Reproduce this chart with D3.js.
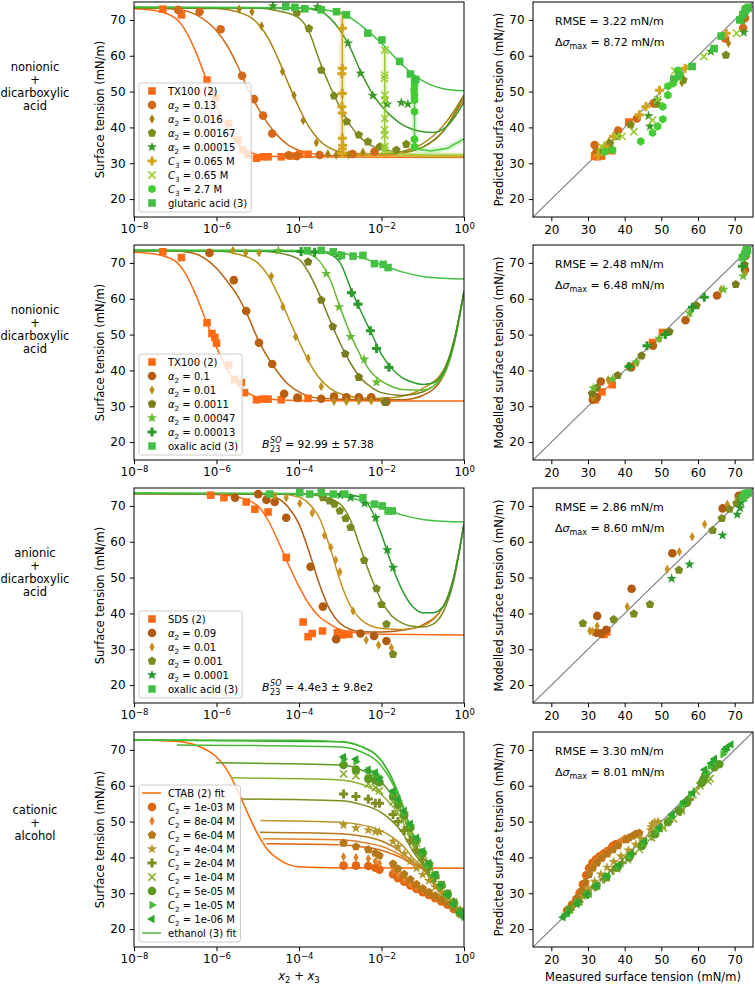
<!DOCTYPE html>
<html>
<head>
<meta charset="utf-8">
<script src="https://cdn.jsdelivr.net/npm/d3@7"></script>
<style>
body { margin: 0; background: #fff; }
svg, text { font-family: "DejaVu Sans"; }
</style>
</head>
<body>
<script>
// ---------- data ----------
var logTicks = [1e-8, 1e-6, 1e-4, 1e-2, 1];
var tensionTicks = [20, 30, 40, 50, 60, 70];
var rowLabels = [["nonionic", "+", "dicarboxylic", "acid"],
                 ["nonionic", "+", "dicarboxylic", "acid"],
                 ["anionic", "+", "dicarboxylic", "acid"],
                 ["cationic", "+", "alcohol"]];
var rightYLabels = ["Predicted surface tension (mN/m)", "Modelled surface tension (mN/m)",
                    "Modelled surface tension (mN/m)", "Predicted surface tension (mN/m)"];
var rmse = ["3.22", "2.48", "2.86", "3.30"];
var dsigmaMax = ["8.72", "6.48", "8.60", "8.01"];
var bso = [null, "92.99 ± 57.38", "4.4e3 ± 9.8e2", null];

// points are [log10(x2+x3), surface tension]; fits likewise; preds are [measured, predicted]
// row 1
var r1Labels = ["TX100 (2)", "α|2| = 0.13", "α|2| = 0.016", "α|2| = 0.00167", "α|2| = 0.00015",
                "C|3| = 0.065 M", "C|3| = 0.65 M", "C|3| = 2.7 M", "glutaric acid (3)"];
var r1Points = [
  [[-7.30,73.0],[-6.85,71.4],[-6.23,53.2],[-6.10,49.5],[-6.02,48.2],[-5.70,41.1],[-5.48,36.5],[-5.36,33.7],[-5.24,32.4],[-5.03,31.4],[-4.87,31.8],[-4.75,31.8],[-4.43,31.8],[-4.15,32.0],[-3.98,32.5],[-3.78,32.5]],
  [[-6.93,72.8],[-6.41,72.3],[-5.90,67.4],[-5.38,54.4],[-5.09,47.9],[-4.87,43.3],[-4.65,38.3],[-4.25,32.2],[-4.05,32.0],[-3.50,32.3],[-2.70,32.6],[-2.17,33.2]],
  [[-5.45,73.0],[-5.14,72.3],[-4.91,68.3],[-4.40,55.6],[-4.12,49.0],[-3.90,41.9],[-3.58,35.7],[-3.30,32.6],[-3.10,32.3],[-2.80,32.4],[-2.45,33.1]],
  [[-4.05,72.0],[-3.76,67.6],[-3.46,56.0],[-3.15,48.8],[-2.84,41.6],[-2.55,37.9],[-2.33,36.0],[-2.04,34.6],[-1.64,33.7],[-1.40,35.3]],
  [[-4.63,73.9],[-3.55,73.6],[-2.81,63.5],[-2.51,55.1],[-2.21,48.9],[-1.86,46.5],[-1.52,46.9],[-1.36,46.5]],
  [[-2.95,67.7],[-2.95,56.5],[-2.96,55.0],[-2.95,49.5],[-2.96,45.8],[-2.95,44.0],[-2.95,37.0],[-2.94,35.0],[-2.95,34.0],[-2.95,32.8]],
  [[-1.92,61.6],[-1.92,54.6],[-1.93,53.7],[-1.92,49.0],[-1.92,47.6],[-1.92,42.5],[-1.93,39.3],[-1.92,37.9],[-1.92,34.6],[-1.92,33.7]],
  [[-1.20,53.2],[-1.20,51.8],[-1.21,50.4],[-1.20,49.0],[-1.20,47.6],[-1.20,44.4],[-1.20,36.7],[-1.20,34.6]],
  [[-4.32,73.7],[-4.10,73.5],[-3.86,73.1],[-3.46,72.8],[-3.09,72.3],[-2.85,71.4],[-2.33,66.3],[-1.99,64.4],[-1.56,58.4],[-1.30,54.9],[-1.17,53.4]]
];
var r1Fits = [
  [[-8,73.1],[-7.5,72.6],[-7,70.5],[-6.75,67],[-6.5,61],[-6.25,53.5],[-6,46],[-5.75,40],[-5.5,35.8],[-5.25,33.5],[-5,32.4],[-4.5,31.9],[-4,31.8],[-2,31.7],[0,31.7]],
  [[-8,73.4],[-7,73],[-6.5,71.5],[-6,67],[-5.75,63],[-5.5,57.5],[-5.25,51],[-5,45.5],[-4.75,41],[-4.5,37.5],[-4.25,35],[-4,33.6],[-3.5,32.4],[-3,32.1],[-2,32.2],[-1.5,32.8],[-1,34.5],[-0.5,39],[0,48]],
  [[-8,73.4],[-6,73.2],[-5.5,72.3],[-5,69],[-4.75,65],[-4.5,59],[-4.25,52],[-4,45.5],[-3.75,40],[-3.5,36.3],[-3.25,34.2],[-3,33.2],[-2.5,32.6],[-2,32.6],[-1.5,33.3],[-1,35.5],[-0.5,40.5],[0,49]],
  [[-8,73.5],[-5,73.3],[-4.5,72.5],[-4,70.5],[-3.75,66.5],[-3.5,58.5],[-3.25,51.5],[-3,45.5],[-2.75,40.5],[-2.5,37],[-2.25,35],[-2,33.8],[-1.5,33.2],[-1,34.5],[-0.5,39],[0,49]],
  [[-8,73.5],[-4,73.3],[-3.5,72.5],[-3.25,70.5],[-3,67],[-2.75,62],[-2.5,55.5],[-2.25,50],[-2,46],[-1.75,43],[-1.5,40.8],[-1.25,39.5],[-1,38.8],[-0.75,38.6],[-0.5,39.5],[-0.25,42.5],[0,47]],
  [[-2.95,72.5],[-2.95,32.5],[-2,32.1],[0,32.0]],
  [[-1.92,62.5],[-1.92,33.2],[-1.5,32.6],[-1,32.4],[0,32.3]],
  [[-1.2,53.5],[-1.2,34],[-0.8,33.4],[-0.4,34.2],[0,36.8]],
  [[-8,73.6],[-4,73.4],[-3,72],[-2.5,68.5],[-2,63.5],[-1.5,57.5],[-1,53],[-0.5,50.8],[0,50.2]]
];
var r1Preds = [
  [[31.8,32.0],[32.5,31.8],[33.7,32.0],[36.5,33.5],[41.1,41.5],[72.3,71.5],[73.0,73.0]],
  [[31.8,35.1],[32.3,33.2],[33.2,32.3],[35.0,34.6],[38.2,39.1],[43.3,42.5],[47.9,46.7],[67.4,64.8],[72.3,67.7],[72.8,70.5]],
  [[32.4,32.8],[32.6,33.5],[35.7,36.0],[41.9,40.5],[49.0,47.0],[55.6,52.5],[68.3,63.5],[72.3,69.5],[73.0,71.5]],
  [[33.7,33.5],[34.6,34.0],[36.0,35.5],[37.9,37.5],[41.6,40.8],[48.8,46.5],[56.0,53.2],[67.6,60.2],[72.0,70.0]],
  [[46.5,43.2],[46.9,40.3],[48.9,47.5],[55.1,54.0],[63.5,61.2],[72.5,66.5],[73.9,73.3]],
  [[32.8,32.2],[34.6,34.8],[37.0,37.5],[44.0,43.5],[45.8,45.8],[49.5,50.4],[55.0,55.0],[56.5,56.5],[67.7,66.3]],
  [[33.7,34.6],[34.6,33.5],[37.9,37.4],[39.3,37.5],[42.5,38.8],[47.6,42.0],[49.0,47.7],[53.7,55.8],[54.6,54.0],[61.6,59.8],[70.5,66.3]],
  [[34.6,33.2],[36.7,33.7],[44.4,36.1],[47.6,38.5],[49.0,40.3],[50.4,42.3],[50.4,45.8],[51.8,49.0],[53.2,52.3],[51.8,51.5],[54.5,55.9]],
  [[53.4,53.5],[54.9,54.5],[58.4,57.0],[64.4,62.0],[66.3,65.5],[71.4,70.0],[72.3,71.5],[72.8,72.5],[73.1,73.0],[73.7,73.5]]
];

// row 2
var r2Labels = ["TX100 (2)", "α|2| = 0.1", "α|2| = 0.01", "α|2| = 0.0011", "α|2| = 0.00047",
                "α|2| = 0.00013", "oxalic acid (3)"];
var r2Points = [
  [[-7.30,73.1],[-6.85,71.5],[-6.23,53.3],[-6.11,50.3],[-6.04,49.2],[-6.0,47.6],[-5.70,41.5],[-5.56,37.5],[-5.40,36.6],[-5.32,33.8],[-5.03,31.8],[-4.87,32.0],[-4.75,32.0],[-4.43,31.8],[-4.02,32.2],[-3.78,32.2]],
  [[-6.17,72.8],[-5.58,65.2],[-5.28,56.6],[-4.97,47.7],[-4.65,41.8],[-4.36,33.5],[-4.04,32.4],[-3.46,32.1],[-3.15,32.7],[-2.85,32.5],[-2.55,32.5],[-2.25,32.5],[-1.88,31.3]],
  [[-5.60,73.5],[-5.29,72.8],[-4.97,72.8],[-4.67,66.3],[-4.39,57.8],[-4.08,49.4],[-3.78,43.4],[-3.46,35.5],[-3.15,31.3],[-2.85,31.3],[-2.55,31.5],[-2.25,31.5],[-1.98,31.5]],
  [[-3.78,70.3],[-3.46,59.6],[-3.18,52.2],[-2.88,44.6],[-2.55,38.1],[-1.91,31.1]],
  [[-4.50,73.4],[-3.34,67.0],[-3.03,57.7],[-2.75,49.4],[-2.42,43.1],[-2.12,36.7]],
  [[-3.95,73.2],[-3.62,73.0],[-3.01,72.1],[-2.73,61.7],[-2.57,58.5],[-2.27,51.1],[-2.12,46.1],[-1.82,40.9]],
  [[-3.80,73.4],[-3.46,73.5],[-3.17,73.1],[-2.97,72.1],[-2.69,71.9],[-2.45,72.1],[-2.17,69.8],[-1.96,69.6],[-1.84,68.7]]
];
var r2Fits = [
  [[-8,73],[-7.5,72.5],[-7,70.5],[-6.75,67],[-6.5,61],[-6.25,53.7],[-6,46.5],[-5.75,40.5],[-5.5,36.2],[-5.25,33.8],[-5,32.5],[-4.5,31.8],[-4,31.6],[-2,31.5],[0,31.5]],
  [[-8,73.5],[-7,73.3],[-6.5,72.5],[-6.25,71],[-6,68.5],[-5.75,65],[-5.5,61],[-5.25,55.5],[-5,48.8],[-4.75,43.5],[-4.5,39.3],[-4.25,36],[-4,34],[-3.5,32.2],[-2.5,31.8],[-1.5,31.8],[-1,33],[-0.5,38.5],[-0.25,47],[0,62]],
  [[-8,73.5],[-6,73.3],[-5.5,72.5],[-5,70],[-4.75,66.5],[-4.5,61],[-4.25,54.5],[-4,48],[-3.75,42.2],[-3.5,37.8],[-3.25,35],[-3,33.5],[-2.5,32.4],[-2,32.2],[-1.5,32.8],[-1,35],[-0.5,40],[-0.25,48],[0,62]],
  [[-8,73.5],[-5,73.3],[-4.5,72.8],[-4,71],[-3.75,67],[-3.5,61],[-3.25,54],[-3,47.5],[-2.75,42],[-2.5,37.8],[-2.25,35.3],[-2,33.8],[-1.5,33],[-1,34],[-0.5,39],[-0.25,48],[0,62]],
  [[-8,73.5],[-4,73.2],[-3.75,72.5],[-3.5,70.5],[-3.25,65.5],[-3,57.5],[-2.75,50],[-2.5,44],[-2.25,39.5],[-2,37],[-1.75,35.5],[-1.5,34.7],[-1,34.5],[-0.5,38.5],[-0.25,47],[0,62]],
  [[-8,73.5],[-3.5,73.2],[-3.25,72.5],[-3,70],[-2.75,63],[-2.5,56.5],[-2.25,50.5],[-2,44.5],[-1.75,40.5],[-1.5,38],[-1.25,36.7],[-1,36.1],[-0.75,36.5],[-0.5,39.5],[-0.25,47.5],[0,62]],
  [[-8,73.6],[-4,73.5],[-3,72.8],[-2.5,71.5],[-2,69.5],[-1.5,67.5],[-1,66.2],[-0.5,65.7],[0,65.5]]
];
var r2Preds = [
  [[31.8,32.0],[32.0,31.8],[32.2,32.5],[33.8,34.0],[36.6,36.0],[41.5,41.0],[47.6,47.8],[50.3,50.6],[73.1,73.0]],
  [[31.3,31.8],[32.4,32.5],[33.5,36.9],[41.8,40.8],[47.7,46.9],[56.6,54.0],[65.2,60.9],[72.8,68.1],[73.0,72.0]],
  [[31.3,32.5],[31.5,32.7],[35.5,37.4],[43.4,42.1],[49.4,48.8],[57.8,56.0],[66.3,62.6],[72.8,67.2],[73.5,72.5]],
  [[31.1,33.5],[32.4,35.1],[38.1,38.6],[44.6,44.1],[52.2,50.8],[59.6,58.1],[70.3,64.0],[72.7,69.5]],
  [[31.5,35.1],[36.7,37.6],[43.1,42.3],[49.4,48.9],[57.7,56.0],[67.0,62.6],[72.3,66.3],[73.3,73.0]],
  [[41.2,41.1],[46.1,46.9],[51.1,50.0],[58.5,57.6],[61.7,60.4],[72.1,69.1],[73.2,73.3]],
  [[72.1,71.5],[72.7,72.3],[73.2,73.7],[73.5,73.5],[73.0,72.8]]
];

// row 3
var r3Labels = ["SDS (2)", "α|2| = 0.09", "α|2| = 0.01", "α|2| = 0.001", "α|2| = 0.0001", "oxalic acid (3)"];
var r3Points = [
  [[-6.14,73.0],[-5.82,72.3],[-5.28,71.1],[-5.07,69.1],[-4.75,68.3],[-4.31,55.6],[-3.90,37.6],[-3.78,33.5],[-3.68,34.4],[-3.43,35.1],[-3.07,34.6],[-2.95,34.0],[-2.79,34.2]],
  [[-5.55,72.3],[-4.99,73.3],[-4.79,71.7],[-4.59,71.1],[-4.31,66.7],[-3.72,53.0],[-3.42,41.9],[-3.10,32.8],[-2.51,34.4],[-2.18,33.7],[-1.88,32.3]],
  [[-4.59,72.8],[-4.31,72.3],[-3.98,70.7],[-3.68,68.0],[-3.38,61.8],[-3.23,58.4],[-3.11,54.9],[-3.01,51.6],[-2.69,40.7],[-2.37,32.6],[-2.07,31.2],[-1.76,30.4]],
  [[-3.42,72.3],[-3.26,71.4],[-3.14,70.5],[-3.01,68.6],[-2.87,66.5],[-2.75,64.0],[-2.42,54.8],[-2.12,46.9],[-2.00,42.5],[-1.88,37.0],[-1.72,28.6]],
  [[-3.00,73.0],[-2.75,72.3],[-2.41,70.7],[-2.14,66.7],[-1.86,57.7],[-1.72,52.8]],
  [[-4.71,73.3],[-3.98,73.7],[-3.74,73.3],[-3.46,73.7],[-3.17,73.3],[-2.89,73.3],[-2.45,72.3],[-2.17,70.5],[-1.98,70.0],[-1.84,68.6],[-1.74,68.6]]
];
var r3Fits = [
  [[-8,73.5],[-6,73.2],[-5.5,72.5],[-5,70],[-4.75,66],[-4.5,60],[-4.25,53.5],[-4,47.5],[-3.75,42.5],[-3.5,39],[-3.25,37],[-3,35.5],[-2.5,34.5],[-2,34.2],[0,34.0]],
  [[-8,73.5],[-5,73.3],[-4.5,72],[-4.25,69.5],[-4,65],[-3.75,57],[-3.5,48],[-3.25,41],[-3,37.2],[-2.75,35.5],[-2.5,34.9],[-2,34.8],[-1.5,35.3],[-1,36.8],[-0.5,42],[-0.25,50],[0,65]],
  [[-8,73.5],[-4.5,73.3],[-4,72.5],[-3.75,70.5],[-3.5,66.5],[-3.25,58.5],[-3,49],[-2.75,42],[-2.5,38.3],[-2.25,36.5],[-2,35.8],[-1.5,35.5],[-1,36.5],[-0.5,42],[-0.25,50],[0,65]],
  [[-8,73.5],[-4,73.3],[-3.5,72.8],[-3,70.5],[-2.75,66],[-2.5,58],[-2.25,50],[-2,43.5],[-1.75,39.3],[-1.5,37.3],[-1.25,36.4],[-1,36.2],[-0.75,37],[-0.5,40.5],[-0.25,49],[0,65]],
  [[-8,73.5],[-3,73.3],[-2.5,72.5],[-2.25,69],[-2,62],[-1.75,53.5],[-1.5,46.5],[-1.25,42],[-1,40.2],[-0.75,40.2],[-0.5,42],[-0.25,50],[0,65]],
  [[-8,73.6],[-4,73.5],[-3,72.8],[-2.5,71.5],[-2,69.5],[-1.5,67.5],[-1,66.2],[-0.5,65.7],[0,65.5]]
];
var r3Preds = [
  [[33.5,34.5],[34.4,34.3],[35.1,34.8],[34.2,34.1],[73.0,73.2],[72.3,73.0]],
  [[32.5,39.3],[41.9,46.9],[53.0,56.8],[66.7,69.3],[32.3,34.6],[33.6,34.4],[35.0,35.4],[73.2,73.3],[72.3,72.5],[71.1,72.8]],
  [[30.5,35.1],[32.5,36.5],[31.2,35.0],[40.7,41.9],[51.6,52.3],[54.9,57.2],[58.4,61.4],[61.8,64.9],[68.0,70.5],[70.7,72.0],[72.3,73.0],[72.8,73.3]],
  [[28.6,37.2],[37.0,38.3],[42.5,39.9],[46.9,42.5],[54.8,52.1],[64.0,63.2],[66.5,66.5],[68.6,69.1],[70.5,70.7],[71.4,72.2],[72.3,73.0]],
  [[52.8,49.7],[57.7,53.7],[66.7,61.8],[70.7,67.6],[71.5,69.4],[71.8,70.9],[72.7,72.3]],
  [[72.3,72.3],[72.7,73.3],[73.3,73.5],[73.7,73.6]]
];

// row 4
var r4Labels = ["CTAB (2) fit", "C|2| = 1e-03 M", "C|2| = 8e-04 M", "C|2| = 6e-04 M", "C|2| = 4e-04 M",
                "C|2| = 2e-04 M", "C|2| = 1e-04 M", "C|2| = 5e-05 M", "C|2| = 1e-05 M", "C|2| = 1e-06 M",
                "ethanol (3) fit"];
var r4Points = [
  [],
  [[-2.92,37.7],[-2.62,37.7],[-2.32,37.6],[-2.15,37.1],[-2.05,36.6],[-1.72,35.3],[-1.6,34.2],[-1.45,33.2],[-1.3,32.2],[-1.15,31.2],[-1.0,30.3],[-0.85,29.5],[-0.7,28.6],[-0.55,27.7],[-0.4,26.8],[-0.25,25.6],[-0.1,24.3]],
  [[-2.92,40.2],[-2.62,40.0],[-2.32,39.6],[-2.15,38.9],[-2.05,38.3],[-1.72,36.3],[-1.6,35.0],[-1.45,33.8],[-1.3,32.7],[-1.15,31.7],[-1.0,30.8],[-0.85,29.9],[-0.7,29.0],[-0.55,28.1],[-0.4,27.1],[-0.25,25.9],[-0.1,24.6]],
  [[-2.92,44.0],[-2.62,43.0],[-2.32,42.2],[-2.15,41.2],[-2.05,40.5],[-1.72,38.2],[-1.6,36.8],[-1.45,35.3],[-1.3,33.8],[-1.15,32.5],[-1.0,31.3],[-0.85,30.3],[-0.7,29.3],[-0.55,28.3],[-0.4,27.2],[-0.25,26.0],[-0.1,24.6]],
  [[-2.92,49.1],[-2.62,48.2],[-2.32,47.6],[-2.15,47.2],[-2.05,47.1],[-1.72,44.5],[-1.6,43.0],[-1.45,41.0],[-1.3,39.0],[-1.15,37.0],[-1.0,35.2],[-0.85,33.5],[-0.7,31.8],[-0.55,30.2],[-0.4,28.6],[-0.25,26.8],[-0.1,24.9]],
  [[-2.92,57.7],[-2.62,57.0],[-2.32,56.3],[-2.15,55.1],[-2.05,55.1],[-1.72,52.0],[-1.6,50.0],[-1.45,47.5],[-1.3,44.8],[-1.15,42.0],[-1.0,39.3],[-0.85,36.8],[-0.7,34.3],[-0.55,32.0],[-0.4,29.8],[-0.25,27.5],[-0.1,25.1]],
  [[-2.92,63.3],[-2.62,62.8],[-2.32,60.5],[-2.15,59.5],[-2.05,58.6],[-1.72,55.5],[-1.6,53.3],[-1.45,50.5],[-1.3,47.3],[-1.15,44.0],[-1.0,40.8],[-0.85,37.8],[-0.7,35.0],[-0.55,32.4],[-0.4,30.0],[-0.25,27.5],[-0.1,25.0]],
  [[-2.92,65.8],[-2.62,64.5],[-2.32,62.0],[-2.15,61.5],[-2.05,61.0],[-1.72,57.0],[-1.6,54.8],[-1.45,51.8],[-1.3,48.3],[-1.15,44.7],[-1.0,41.2],[-0.85,38.0],[-0.7,35.0],[-0.55,32.3],[-0.4,29.8],[-0.25,27.2],[-0.1,24.8]],
  [[-2.92,67.5],[-2.62,66.8],[-2.32,64.2],[-2.15,63.3],[-2.05,62.3],[-1.72,58.0],[-1.6,55.8],[-1.45,52.6],[-1.3,49.0],[-1.15,45.2],[-1.0,41.5],[-0.85,38.2],[-0.7,35.1],[-0.55,32.3],[-0.4,29.6],[-0.25,27.0],[-0.1,24.5],[0,23.4]],
  [[-2.92,68.0],[-2.62,67.4],[-2.32,64.5],[-2.15,63.7],[-2.05,61.8],[-1.72,58.5],[-1.6,56.2],[-1.45,53.0],[-1.3,49.4],[-1.15,45.5],[-1.0,41.8],[-0.85,38.4],[-0.7,35.2],[-0.55,32.3],[-0.4,29.6],[-0.25,27.0],[-0.1,24.4],[0,23.2]],
  []
];
var r4Fits = [
  [[-8,72.8],[-7,72.4],[-6.5,71.3],[-6,68],[-5.75,64.5],[-5.5,59],[-5.25,52.5],[-5,46.5],[-4.75,42],[-4.5,39.5],[-4.25,38],[-4,37.4],[-3,37.1],[0,37.0]],
  [[-4.79,43.8],[-3,43.5],[-2.5,43],[-2,42],[-1.75,41],[-1.5,39.8],[-1.25,38],[-1,36.8],[-0.75,32.8],[-0.5,29.3],[-0.25,25.9],[0,22.8]],
  [[-4.87,45.2],[-3,44.9],[-2.5,44.3],[-2,43.1],[-1.75,41.9],[-1.5,40.4],[-1.25,38.3],[-1,36.9],[-0.75,32.9],[-0.5,29.4],[-0.25,25.9],[0,23]],
  [[-4.95,47],[-3,46.6],[-2.5,46],[-2,44.6],[-1.75,43.2],[-1.5,41.3],[-1.25,39],[-1,37],[-0.75,33],[-0.5,29.4],[-0.25,26],[0,23]],
  [[-4.93,50.3],[-3,49.8],[-2.5,49.1],[-2,47.4],[-1.75,45.7],[-1.5,43.5],[-1.25,40],[-1,37.3],[-0.75,33.2],[-0.5,29.5],[-0.25,26],[0,23.1]],
  [[-5.38,56.3],[-3,55.8],[-2.5,54.8],[-2,52.5],[-1.75,50.2],[-1.5,47],[-1.25,42],[-1,37.8],[-0.75,33.4],[-0.5,29.6],[-0.25,26.1],[0,23.2]],
  [[-5.65,62.2],[-3,61.6],[-2.5,60.5],[-2,57.5],[-1.75,54.5],[-1.5,50.5],[-1.25,43.5],[-1,38.2],[-0.75,33.5],[-0.5,29.6],[-0.25,26.2],[0,23.3]],
  [[-6.02,66.4],[-3,65.8],[-2.5,64.5],[-2,61],[-1.75,57.5],[-1.5,52.5],[-1.25,44.5],[-1,38.4],[-0.75,33.5],[-0.5,29.6],[-0.25,26.2],[0,23.3]],
  [[-6.96,71.4],[-3,70.8],[-2.5,69.5],[-2,65.5],[-1.75,61],[-1.5,54.5],[-1.25,46],[-1,38.6],[-0.75,33.5],[-0.5,29.6],[-0.25,26.3],[0,23.3]],
  [[-8,72.8],[-3,72.3],[-2.5,71],[-2,67],[-1.75,62.2],[-1.5,55],[-1.25,46.5],[-1,38.8],[-0.75,33.5],[-0.5,29.5],[-0.25,26.3],[0,23.3]],
  [[-8,72.8],[-4,72.7],[-3,72.3],[-2.5,71],[-2,67],[-1.75,62],[-1.5,55],[-1.25,46.5],[-1,38.8],[-0.75,33.5],[-0.5,29.5],[-0.25,26.3],[0,23.3]]
];
var r4Preds = [
  [],
  [[24.3,25.2],[25.6,26.8],[26.8,28.3],[27.7,30.0],[28.6,32.5],[29.5,35.0],[30.3,37.0],[31.2,38.5],[32.2,39.5],[33.2,40.3],[34.2,41.0],[35.3,41.8],[36.6,43.0],[37.1,43.4],[37.7,43.7]],
  [[24.6,25.3],[25.9,27.0],[27.1,28.6],[28.1,30.5],[29.0,33.0],[29.9,35.5],[30.8,37.2],[31.7,38.5],[32.7,39.6],[33.8,40.6],[35.0,41.6],[36.3,42.5],[38.3,44.0],[38.9,44.5],[39.6,45.0],[40.0,45.1],[40.2,45.2]],
  [[24.6,25.3],[26.0,27.0],[27.2,28.8],[28.3,30.8],[29.3,33.0],[30.3,35.3],[31.3,37.0],[32.5,38.5],[33.8,39.8],[35.3,41.0],[36.8,42.2],[38.2,43.3],[40.5,45.0],[41.2,45.5],[42.2,46.0],[43.0,46.5],[44.0,46.8]],
  [[24.9,25.4],[26.8,27.2],[28.6,29.2],[30.2,31.3],[31.8,33.3],[33.5,35.3],[35.2,37.2],[37.0,38.8],[39.0,40.4],[41.0,42.0],[43.0,43.6],[44.5,45.2],[47.1,47.6],[47.2,48.5],[47.6,49.3],[48.2,49.8],[49.1,50.0]],
  [[25.1,25.5],[27.5,27.6],[29.8,29.7],[32.0,31.8],[34.3,34.0],[36.8,36.4],[39.3,38.5],[42.0,41.0],[44.8,43.5],[47.5,46.0],[50.0,48.3],[52.0,50.0],[55.1,52.8],[55.1,53.3],[56.3,55.0],[57.0,55.8],[57.7,56.2]],
  [[25.0,25.5],[27.5,27.6],[30.0,29.8],[32.4,32.0],[35.0,34.3],[37.8,36.8],[40.8,39.4],[44.0,42.3],[47.3,45.5],[50.5,48.3],[53.3,50.8],[55.5,53.0],[58.6,57.5],[59.5,58.5],[60.5,60.0],[62.8,61.3],[63.3,62.0]],
  [[24.8,25.4],[27.2,27.5],[29.8,29.8],[32.3,32.1],[35.0,34.5],[38.0,37.2],[41.2,40.0],[44.7,43.2],[48.3,46.5],[51.8,49.8],[54.8,53.0],[57.0,55.3],[61.0,60.8],[61.5,61.8],[62.0,63.0],[64.5,65.2],[65.8,66.0]],
  [[23.4,23.5],[24.5,24.5],[27.0,27.2],[29.6,29.6],[32.3,32.2],[35.1,34.8],[38.2,37.5],[41.5,40.5],[45.2,44.0],[49.0,47.5],[52.6,51.2],[55.8,54.8],[58.0,57.5],[62.3,63.8],[63.3,65.5],[64.2,66.5],[66.8,68.8],[67.5,70.0]],
  [[23.2,23.3],[24.4,24.4],[27.0,27.0],[29.6,29.5],[32.3,32.0],[35.2,34.8],[38.4,37.8],[41.8,41.0],[45.5,44.5],[49.4,48.3],[53.0,52.0],[56.2,55.5],[58.5,58.0],[61.8,64.5],[63.7,66.3],[64.5,67.5],[67.4,70.2],[68.0,70.8],[69.0,71.5]],
  []
];

// ---------- styles ----------
var r1Colors = ["#ff6a14", "#d2691a", "#a8820f", "#7e8a1e", "#3a9a28", "#d4a418", "#9acd32", "#44cc33", "#40c040"];
var r1Shapes = ["square", "circle", "diamond", "pentagon", "star", "plus", "x", "hexagon", "square"];
var r1Curve = ["smooth", "smooth", "smooth", "smooth", "smooth", "linear", "linear", "linear", "smooth"];
var r2Colors = ["#ff6a14", "#b8600f", "#b8901a", "#7a7c1e", "#66bb33", "#2a9a2a", "#44c044"];
var r2Shapes = ["square", "circle", "diamond", "pentagon", "star", "plus", "square"];
var r3Colors = ["#ff6a14", "#b05a12", "#c8901e", "#7a8a20", "#2a9a30", "#44c044"];
var r3Shapes = ["square", "circle", "diamond", "pentagon", "star", "square"];
var r4Colors = ["#ff6600", "#e0660f", "#e0812a", "#b67818", "#b4982a", "#7f8c1f", "#8bb030", "#5c9a22", "#44bb33", "#2ea52e", "#44bb33"];
var r4Shapes = ["line", "circle", "diamond", "pentagon", "star", "plus", "x", "circle", "triR", "triL", "line"];

var rows = [
  {labels: r1Labels, pts: r1Points, fits: r1Fits, preds: r1Preds, colors: r1Colors, shapes: r1Shapes, curve: r1Curve},
  {labels: r2Labels, pts: r2Points, fits: r2Fits, preds: r2Preds, colors: r2Colors, shapes: r2Shapes},
  {labels: r3Labels, pts: r3Points, fits: r3Fits, preds: r3Preds, colors: r3Colors, shapes: r3Shapes},
  {labels: r4Labels, pts: r4Points, fits: r4Fits, preds: r4Preds, colors: r4Colors, shapes: r4Shapes}
];

// ---------- layout ----------
var FONT = '"DejaVu Sans"';
var rowTop = [2, 245, 488, 732],
    panelH = 215;
var leftX0 = 134, leftX1 = 464,
    rightX0 = 533, rightX1 = 753;

var svg = d3.select('body')
            .append('svg')
            .attr('width', 755)
            .attr('height', 984)
            .attr('font-family', FONT);

// marker shapes, size = radius^2
function poly(n, sx, sy) {
  return {draw: function(ctx, size) {
    var r = Math.sqrt(size);
    for (var k = 0; k < n; k++) {
      var a = -Math.PI / 2 + k * 2 * Math.PI / n;
      var px = r * sx * Math.cos(a), py = r * sy * Math.sin(a);
      if (k === 0) ctx.moveTo(px, py); else ctx.lineTo(px, py);
    }
    ctx.closePath();
  }};
}
var markerTypes = {
  square: {draw: function(ctx, size) { var r = Math.sqrt(size) * 0.88; ctx.rect(-r, -r, 2 * r, 2 * r); }},
  circle: {draw: function(ctx, size) { var r = Math.sqrt(size); ctx.moveTo(r, 0); ctx.arc(0, 0, r, 0, 2 * Math.PI); }},
  diamond: poly(4, 0.62, 1.1),
  pentagon: poly(5, 1.05, 1.05),
  hexagon: poly(6, 1.0, 1.0),
  star: {draw: function(ctx, size) {
    var r = Math.sqrt(size) * 1.25, ri = r * 0.4;
    for (var k = 0; k < 10; k++) {
      var a = -Math.PI / 2 + k * Math.PI / 5, rr = k % 2 ? ri : r;
      if (k === 0) ctx.moveTo(rr * Math.cos(a), rr * Math.sin(a)); else ctx.lineTo(rr * Math.cos(a), rr * Math.sin(a));
    }
    ctx.closePath();
  }},
  plus: {draw: function(ctx, size) {
    var r = Math.sqrt(size) * 1.05, t = r / 3;
    ctx.moveTo(-t, -r); ctx.lineTo(t, -r); ctx.lineTo(t, -t); ctx.lineTo(r, -t); ctx.lineTo(r, t);
    ctx.lineTo(t, t); ctx.lineTo(t, r); ctx.lineTo(-t, r); ctx.lineTo(-t, t); ctx.lineTo(-r, t);
    ctx.lineTo(-r, -t); ctx.lineTo(-t, -t); ctx.closePath();
  }},
  x: {draw: function(ctx, size) {
    var r = Math.sqrt(size) * 0.85;
    ctx.moveTo(-r, -r); ctx.lineTo(r, r); ctx.moveTo(-r, r); ctx.lineTo(r, -r);
  }},
  triR: {draw: function(ctx, size) {
    var r = Math.sqrt(size) * 1.15;
    ctx.moveTo(r, 0); ctx.lineTo(-r * 0.5, -r * 0.87); ctx.lineTo(-r * 0.5, r * 0.87); ctx.closePath();
  }},
  triL: {draw: function(ctx, size) {
    var r = Math.sqrt(size) * 1.15;
    ctx.moveTo(-r, 0); ctx.lineTo(r * 0.5, -r * 0.87); ctx.lineTo(r * 0.5, r * 0.87); ctx.closePath();
  }}
};
var markerR = 4.3;

function drawMarker(sel, shape, color) {
  var p = sel.append('path')
     .attr('d', d3.symbol().type(markerTypes[shape]).size(markerR * markerR)());
  if (shape === 'x') p.attr('fill', 'none').attr('stroke', color).attr('stroke-width', 1.6);
  else p.attr('fill', color);
  return p;
}

function richText(sel, str) {
  var parts = str.split('|');
  if (parts.length === 1) { sel.text(str); return; }
  sel.append('tspan').attr('font-style', 'italic').text(parts[0]);
  sel.append('tspan').attr('font-size', '0.72em').attr('dy', 3).text(parts[1]);
  sel.append('tspan').attr('dy', -3).text(parts[2]);
}

function styleAxis(g) {
  g.attr('font-family', FONT);
  g.selectAll('.domain').remove();
  g.selectAll('.tick line').attr('stroke', '#000');
  g.selectAll('.tick text').attr('fill', '#000').attr('font-size', '12px');
}

var lineSmooth = d3.line().curve(d3.curveMonotoneX);
var lineStraight = d3.line();

rows.forEach(function(row, ri) {
  var top = rowTop[ri], bottom = top + panelH;

  var x = d3.scaleLog().domain([1e-8, 1]).range([leftX0, leftX1]);
  var y = d3.scaleLinear().domain([15, 75]).range([bottom, top]);
  var xr = d3.scaleLinear().domain([15, 75]).range([rightX0, rightX1]);

  // row label
  var lab = svg.append('text')
     .attr('text-anchor', 'middle')
     .attr('font-size', '11.5px')
     .attr('fill', '#000');
  var startY = top + (rowLabels[ri].length === 4 ? 69 : 82);
  rowLabels[ri].forEach(function(s, k) {
    lab.append('tspan').attr('x', 35).attr('y', startY + k * 13).text(s);
  });

  // ---------- left panel ----------
  var clipId = 'clipL' + ri;
  svg.append('clipPath').attr('id', clipId)
     .append('rect').attr('x', leftX0).attr('y', top).attr('width', leftX1 - leftX0).attr('height', panelH);
  var gl = svg.append('g').attr('clip-path', 'url(#' + clipId + ')');

  row.fits.forEach(function(f, si) {
    var pts = f.map(function(d) { return [x(Math.pow(10, d[0])), y(d[1])]; });
    var kind = row.curve ? row.curve[si] : 'smooth';
    var gen = kind === 'linear' ? lineStraight : lineSmooth;
    if (kind === 'linear') {
      gl.append('path').attr('d', gen(pts)).attr('fill', 'none')
        .attr('stroke', row.colors[si]).attr('stroke-opacity', 0.18).attr('stroke-width', 6);
    }
    gl.append('path').attr('d', gen(pts)).attr('fill', 'none')
      .attr('stroke', row.colors[si]).attr('stroke-width', 1.5);
  });

  row.pts.forEach(function(ps, si) {
    var shape = row.shapes[si];
    if (shape === 'line') return;
    gl.selectAll(null).data(ps).enter().append('g')
      .attr('transform', function(d) { return 'translate(' + x(Math.pow(10, d[0])) + ',' + y(d[1]) + ')'; })
      .each(function() { drawMarker(d3.select(this), shape, row.colors[si]); });
  });

  // legend
  var n = row.labels.length, step = 14;
  var legH = n * step + 3, legTop = bottom - 5 - legH, legX = 139;
  var lg = svg.append('g');
  var box = lg.append('rect').attr('x', legX).attr('y', legTop).attr('height', legH)
     .attr('rx', 2.5).attr('fill', '#fff').attr('fill-opacity', 0.8)
     .attr('stroke', '#cccccc').attr('stroke-width', 1);
  var maxW = 0;
  row.labels.forEach(function(l, si) {
    var cy = legTop + 8 + si * step;
    var shape = row.shapes[si];
    if (shape === 'line') {
      lg.append('line').attr('x1', 142).attr('x2', 161).attr('y1', cy).attr('y2', cy)
        .attr('stroke', row.colors[si]).attr('stroke-width', 1.5);
    } else {
      var mg = lg.append('g').attr('transform', 'translate(152,' + cy + ')');
      drawMarker(mg, shape, row.colors[si]);
    }
    var t = lg.append('text').attr('x', 168).attr('y', cy + 3.6).attr('font-size', '10px').attr('fill', '#000');
    richText(t, l);
    maxW = Math.max(maxW, t.node().getComputedTextLength());
  });
  box.attr('width', 168 - legX + maxW + 4);

  // B23 annotation
  if (bso[ri]) {
    var ax0 = 262, ay = bottom - 12;
    var tb = svg.append('text').attr('x', ax0).attr('y', ay).attr('font-size', '11px').attr('font-style', 'italic').text('B');
    var wb = tb.node().getComputedTextLength();
    var tsup = svg.append('text').attr('x', ax0 + wb + 0.5).attr('y', ay - 5).attr('font-size', '8px').attr('font-style', 'italic').text('SO');
    var tsub = svg.append('text').attr('x', ax0 + wb + 0.5).attr('y', ay + 3.5).attr('font-size', '8px').text('23');
    var ws = Math.max(tsup.node().getComputedTextLength(), tsub.node().getComputedTextLength());
    svg.append('text').attr('x', ax0 + wb + ws + 1).attr('y', ay).attr('font-size', '10.6px')
       .attr('xml:space', 'preserve').text(' = ' + bso[ri]);
  }

  // frame + axes
  svg.append('rect').attr('x', leftX0).attr('y', top).attr('width', leftX1 - leftX0).attr('height', panelH)
     .attr('fill', 'none').attr('stroke', '#000').attr('stroke-width', 1);

  var gx = svg.append('g').attr('transform', 'translate(0,' + bottom + ')')
     .call(d3.axisBottom(x).tickValues(logTicks).tickSize(4.2).tickPadding(4.2).tickFormat(function() { return '10'; }));
  styleAxis(gx);
  gx.selectAll('.tick text').each(function(d) {
    var e = Math.round(Math.log10(d));
    d3.select(this).attr('dy', '0.62em').append('tspan').attr('dy', '-0.5em').attr('font-size', '8.5px')
      .text(e < 0 ? '\u2212' + (-e) : String(e));
  });

  var gy = svg.append('g').attr('transform', 'translate(' + leftX0 + ',0)')
     .call(d3.axisLeft(y).tickValues(tensionTicks).tickSize(4.2).tickPadding(4.2));
  styleAxis(gy);

  svg.append('text')
     .attr('transform', 'translate(' + 104 + ',' + (top + panelH / 2) + ') rotate(-90)')
     .attr('text-anchor', 'middle').attr('font-size', '11.5px').text('Surface tension (mN/m)');

  // ---------- right panel ----------
  var clipR = 'clipR' + ri;
  svg.append('clipPath').attr('id', clipR)
     .append('rect').attr('x', rightX0).attr('y', top).attr('width', rightX1 - rightX0).attr('height', panelH);
  var gr = svg.append('g').attr('clip-path', 'url(#' + clipR + ')');

  gr.append('line').attr('x1', xr(15)).attr('y1', y(15)).attr('x2', xr(75)).attr('y2', y(75))
    .attr('stroke', '#808080').attr('stroke-width', 1.2);

  row.preds.forEach(function(ps, si) {
    var shape = row.shapes[si];
    if (shape === 'line') return;
    gr.selectAll(null).data(ps).enter().append('g')
      .attr('transform', function(d) { return 'translate(' + xr(d[0]) + ',' + y(d[1]) + ')'; })
      .each(function() { drawMarker(d3.select(this), shape, row.colors[si]); });
  });

  svg.append('rect').attr('x', rightX0).attr('y', top).attr('width', rightX1 - rightX0).attr('height', panelH)
     .attr('fill', 'none').attr('stroke', '#000').attr('stroke-width', 1);

  var gxr = svg.append('g').attr('transform', 'translate(0,' + bottom + ')')
     .call(d3.axisBottom(xr).tickValues(tensionTicks).tickSize(4.2).tickPadding(4.2));
  styleAxis(gxr);
  var gyr = svg.append('g').attr('transform', 'translate(' + rightX0 + ',0)')
     .call(d3.axisLeft(y).tickValues(tensionTicks).tickSize(4.2).tickPadding(4.2));
  styleAxis(gyr);

  svg.append('text')
     .attr('transform', 'translate(' + 503 + ',' + (top + panelH / 2) + ') rotate(-90)')
     .attr('text-anchor', 'middle').attr('font-size', '11.5px').text(rightYLabels[ri]);

  svg.append('text').attr('x', 555).attr('y', top + 23).attr('font-size', '11px')
     .text('RMSE = ' + rmse[ri] + ' mN/m');
  var dt = svg.append('text').attr('x', 555).attr('y', top + 43.5).attr('font-size', '11px');
  dt.append('tspan').text('Δ');
  dt.append('tspan').attr('font-style', 'italic').text('σ');
  dt.append('tspan').attr('font-size', '8px').attr('dy', 3).text('max');
  dt.append('tspan').attr('dy', -3).text(' = ' + dsigmaMax[ri] + ' mN/m');
});

// bottom axis titles
var xt = svg.append('text').attr('x', 299).attr('y', 980).attr('text-anchor', 'middle').attr('font-size', '11.5px');
xt.append('tspan').attr('font-style', 'italic').text('x');
xt.append('tspan').attr('font-size', '8.5px').attr('dy', 3).text('2');
xt.append('tspan').attr('dy', -3).text(' + ');
xt.append('tspan').attr('font-style', 'italic').text('x');
xt.append('tspan').attr('font-size', '8.5px').attr('dy', 3).text('3');

svg.append('text').attr('x', 643).attr('y', 981).attr('text-anchor', 'middle').attr('font-size', '11.5px')
   .text('Measured surface tension (mN/m)');
</script>
</body>
</html>
